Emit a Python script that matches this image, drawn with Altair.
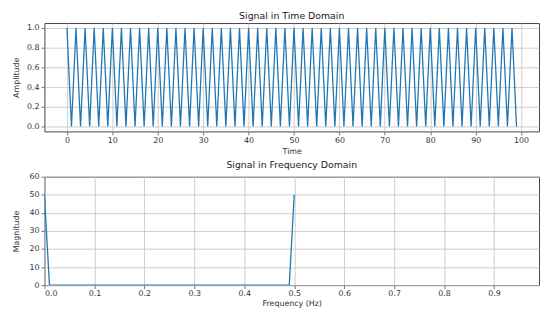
import altair as alt
import pandas as pd

time = list(range(100))
amplitude = [1, 0, 1, 0, 1, 0, 1, 0, 1, 0, 1, 0, 1, 0, 1, 0, 1, 0, 1, 0,
             1, 0, 1, 0, 1, 0, 1, 0, 1, 0, 1, 0, 1, 0, 1, 0, 1, 0, 1, 0,
             1, 0, 1, 0, 1, 0, 1, 0, 1, 0, 1, 0, 1, 0, 1, 0, 1, 0, 1, 0,
             1, 0, 1, 0, 1, 0, 1, 0, 1, 0, 1, 0, 1, 0, 1, 0, 1, 0, 1, 0,
             1, 0, 1, 0, 1, 0, 1, 0, 1, 0, 1, 0, 1, 0, 1, 0, 1, 0, 1, 0]

frequency = [0.00, 0.01, 0.02, 0.03, 0.04, 0.05, 0.06, 0.07, 0.08, 0.09,
             0.10, 0.11, 0.12, 0.13, 0.14, 0.15, 0.16, 0.17, 0.18, 0.19,
             0.20, 0.21, 0.22, 0.23, 0.24, 0.25, 0.26, 0.27, 0.28, 0.29,
             0.30, 0.31, 0.32, 0.33, 0.34, 0.35, 0.36, 0.37, 0.38, 0.39,
             0.40, 0.41, 0.42, 0.43, 0.44, 0.45, 0.46, 0.47, 0.48, 0.49,
             0.50]
magnitude = [50, 0, 0, 0, 0, 0, 0, 0, 0, 0,
             0, 0, 0, 0, 0, 0, 0, 0, 0, 0,
             0, 0, 0, 0, 0, 0, 0, 0, 0, 0,
             0, 0, 0, 0, 0, 0, 0, 0, 0, 0,
             0, 0, 0, 0, 0, 0, 0, 0, 0, 0,
             50]

time_ticks = [0, 10, 20, 30, 40, 50, 60, 70, 80, 90, 100]
amp_ticks = [0.0, 0.2, 0.4, 0.6, 0.8, 1.0]
freq_ticks = [0.0, 0.1, 0.2, 0.3, 0.4, 0.5, 0.6, 0.7, 0.8, 0.9]
mag_ticks = [0, 10, 20, 30, 40, 50, 60]

df_t = pd.DataFrame({"Time": time, "Amplitude": amplitude})
df_f = pd.DataFrame({"Frequency": frequency, "Magnitude": magnitude})

LINE = "#1f77b4"
W = 502

top = alt.Chart(df_t, title="Signal in Time Domain").mark_line(
    color=LINE, strokeWidth=1.3, clip=True
).encode(
    x=alt.X("Time:Q", title="Time",
            scale=alt.Scale(domain=[-4.95, 103.95], nice=False, zero=False),
            axis=alt.Axis(values=time_ticks, format="d")),
    y=alt.Y("Amplitude:Q", title="Amplitude",
            scale=alt.Scale(domain=[-0.05, 1.05], nice=False),
            axis=alt.Axis(values=amp_ticks, format=".1f", minExtent=21, maxExtent=21)),
).properties(width=W, height=110)

bottom = alt.Chart(df_f, title="Signal in Frequency Domain").mark_line(
    color=LINE, strokeWidth=1.3, clip=True
).encode(
    x=alt.X("Frequency:Q", title="Frequency (Hz)",
            scale=alt.Scale(domain=[0, 0.99], nice=False),
            axis=alt.Axis(values=freq_ticks, format=".1f", labelPadding=1.5, titlePadding=2)),
    y=alt.Y("Magnitude:Q", title="Magnitude",
            scale=alt.Scale(domain=[0, 60], nice=False),
            axis=alt.Axis(values=mag_ticks, format="d", minExtent=21, maxExtent=21)),
).properties(width=W, height=110)

chart = alt.vconcat(top, bottom, spacing=4).properties(
    padding={"left": 4, "right": 0, "top": 0, "bottom": 0}
).configure(
    font="DejaVu Sans",
).configure_view(
    stroke="#444444", strokeWidth=1
).configure_axis(
    labelFontSize=8, titleFontSize=8, labelColor="#333333", titleColor="#333333",
    labelFont="DejaVu Sans", titleFont="DejaVu Sans", titleFontWeight="normal",
    domain=False, tickColor="#555555", tickSize=3.5, tickWidth=0.8,
    gridColor="#c0c0c0", gridWidth=0.8, labelPadding=2, titlePadding=3,
).configure_title(
    fontSize=9.5, fontWeight="normal", color="#222222", font="DejaVu Sans", offset=3
)

chart.save("out.html", embed_options={"renderer": "svg", "actions": False})
